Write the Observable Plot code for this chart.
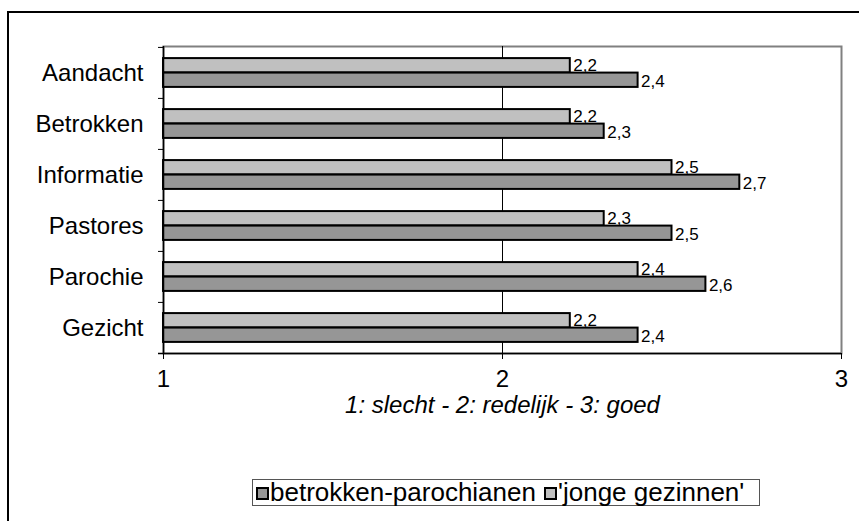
<!DOCTYPE html>
<html>
<head>
<meta charset="utf-8">
<script src="https://cdn.jsdelivr.net/npm/d3@7"></script>
<script src="https://cdn.jsdelivr.net/npm/@observablehq/plot@0.6"></script>
<style>
  html, body { margin: 0; padding: 0; background: #fff; }
  #wrap { position: relative; width: 859px; height: 521px; overflow: hidden; background: #fff; font-family: "Liberation Sans", Arial, sans-serif; }
  #outer { position: absolute; left: 7px; top: 11px; width: 1000px; height: 1000px; border-top: 2px solid #000; border-left: 2px solid #000; }
  #chart { position: absolute; left: 0; top: 0; }
  #legend { position: absolute; left: 252px; top: 479px; width: 506px; height: 25px; line-height: 25px; border: 1px solid #555; background: #fff;
            display: flex; align-items: center; font-size: 26px; color: #000; white-space: nowrap; }
  .sw { display: inline-block; width: 9px; height: 9px; border: 2px solid #000; margin: 0 1px 0 3px; position: relative; top: 1px; }
  .item { display: flex; align-items: center; margin-right: 5px; }
</style>
</head>
<body>
<div id="wrap">
  <div id="outer"></div>
  <div id="chart"></div>
  <div id="legend"></div>
</div>
<script>
const categories = ["Aandacht", "Betrokken", "Informatie", "Pastores", "Parochie", "Gezicht"];
const seriesNames = ["betrokken-parochianen", "'jonge gezinnen'"];
const betrokken = [2.4, 2.3, 2.7, 2.5, 2.6, 2.4];
const jongeGezinnen = [2.2, 2.2, 2.5, 2.3, 2.4, 2.2];
const xTicks = [1, 2, 3];
const xLabel = "1: slecht - 2: redelijk - 3: goed";
const colors = { "betrokken-parochianen": "#969696", "'jonge gezinnen'": "#c0c0c0" };

const fmt = v => String(v).replace(".", ",");
const dataDark = categories.map((c, i) => ({ category: c, value: betrokken[i], series: seriesNames[0] }));
const dataLight = categories.map((c, i) => ({ category: c, value: jongeGezinnen[i], series: seriesNames[1] }));

const W = 859, H = 430;
const mL = 163, mR = 18, mT = 46, mB = H - 353;
const frameW = W - mL - mR;
const bw = (H - mT - mB) / categories.length;
const barH = 14.5;
const half = bw / 2;

const chart = Plot.plot({
  width: W, height: H,
  marginLeft: mL, marginRight: mR, marginTop: mT, marginBottom: mB,
  style: { fontFamily: "'Liberation Sans', Arial, sans-serif", background: "transparent", color: "#000" },
  x: { domain: [1, 3] },
  y: { domain: categories, padding: 0 },
  marks: [
    Plot.frame({ stroke: "#808080", strokeWidth: 2 }),
    Plot.ruleX([2], { stroke: "#000", strokeWidth: 1 }),
    Plot.barX(dataLight, { x1: 1, x2: "value", y: "category", fill: colors[seriesNames[1]], stroke: "#000", strokeWidth: 2,
      insetTop: half - barH, insetBottom: half }),
    Plot.barX(dataDark, { x1: 1, x2: "value", y: "category", fill: colors[seriesNames[0]], stroke: "#000", strokeWidth: 2,
      insetTop: half, insetBottom: half - barH }),
    Plot.ruleX([1], { stroke: "#000", strokeWidth: 1.5 }),
    Plot.ruleY(categories, { y: d => d, dy: -half, stroke: "#000", strokeWidth: 1, insetLeft: -5, insetRight: frameW }),
    Plot.ruleY(categories.slice(-1), { y: d => d, dy: half, stroke: "#000", strokeWidth: 1.5, insetLeft: -5 }),
    Plot.text(dataLight, { x: "value", y: "category", text: d => fmt(d.value), dx: 3, dy: -barH / 2, textAnchor: "start", fontSize: 17 }),
    Plot.text(dataDark, { x: "value", y: "category", text: d => fmt(d.value), dx: 3, dy: barH / 2 + 1, textAnchor: "start", fontSize: 17 }),
    Plot.axisY({ tickSize: 0, tickPadding: 20, fontSize: 24, label: null }),
    Plot.axisX({ ticks: xTicks, tickSize: 6, tickPadding: 10, fontSize: 24, label: null, tickFormat: d => String(d) }),
    Plot.text([xLabel], { frameAnchor: "bottom", dy: 52, fontSize: 24, fontStyle: "italic", lineAnchor: "middle" })
  ]
});
document.getElementById("chart").appendChild(chart);

const legend = document.getElementById("legend");
seriesNames.forEach(name => {
  const item = document.createElement("span");
  item.className = "item";
  const sw = document.createElement("span");
  sw.className = "sw";
  sw.style.background = colors[name];
  item.appendChild(sw);
  item.appendChild(document.createTextNode(name));
  legend.appendChild(item);
});
</script>
</body>
</html>
